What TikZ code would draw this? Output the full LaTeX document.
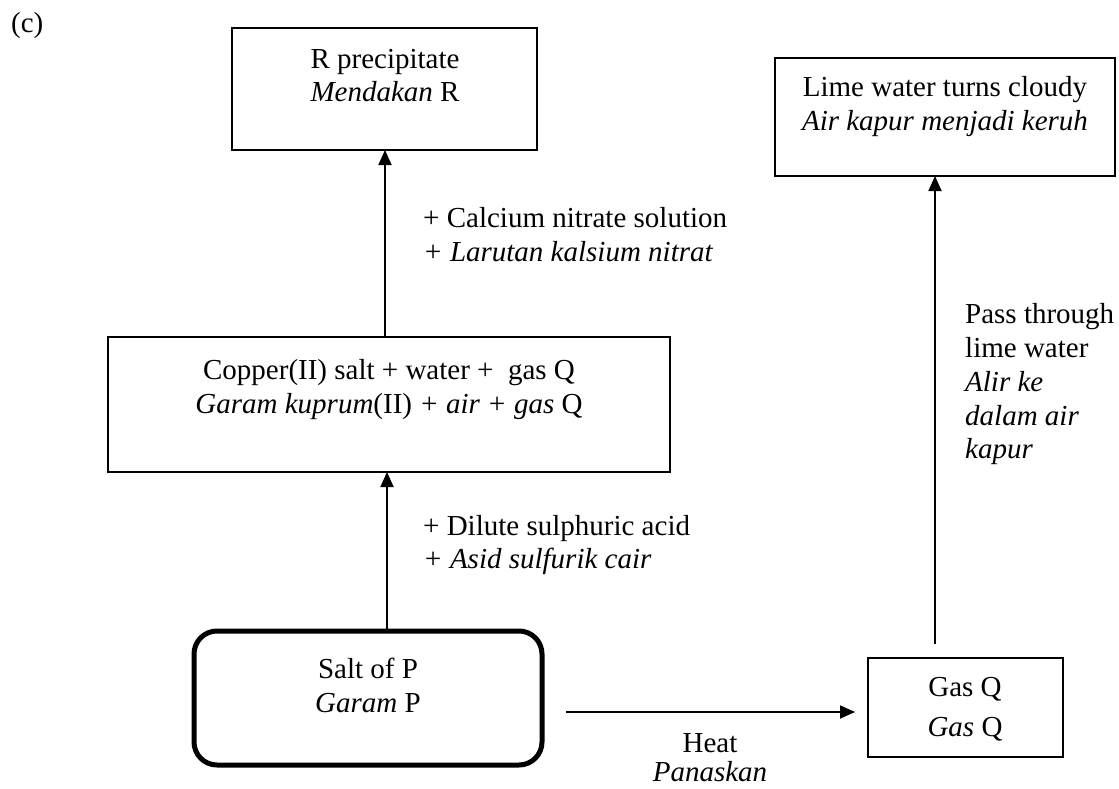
\documentclass[tikz,border=0pt]{standalone}
\usepackage{fontspec}
\setmainfont{Liberation Serif}
\usetikzlibrary{arrows.meta}
\begin{document}
\begin{tikzpicture}[x=1pt,y=-1pt,
  txt/.style={inner sep=0pt,anchor=base,font=\fontsize{29}{34}\selectfont},
  ltxt/.style={txt,anchor=base west},
  boxline/.style={draw=black,line width=1.8pt},
  arr/.style={line width=1.8pt,-{Triangle[length=15pt,width=13pt]}}]
\useasboundingbox (0,0) rectangle (1119,789);
% label (c)
\node[ltxt] (c) at (11,33) {(c)};
% boxes
\draw[boxline] (232,28) rectangle (537,150);
\coordinate (Rb) at (385,150);
\draw[boxline] (775,58) rectangle (1115,176);
\coordinate (Lb) at (935,176);
\draw[boxline] (108,337) rectangle (670,472);
\coordinate (Ct) at (385,337);
\coordinate (Cb) at (387,472);
\draw[line width=5pt,rounded corners=23pt] (194,631) rectangle (542,765);
\coordinate (St) at (387,629);
\draw[boxline] (868,658) rectangle (1063,757);
% box texts
\node[txt] (r1) at (385,69) {R precipitate};
\node[txt] (r2) at (385,102) {\textit{Mendakan} R};
\node[txt] (l1) at (945,97) {Lime water turns cloudy};
\node[txt] (l2) at (945,131) {\textit{Air kapur menjadi keruh}};
\node[txt] (c1) at (389,379) {Copper(II) salt + water +\ \ gas Q};
\node[txt] (c2) at (389,413) {\textit{Garam kuprum}(II) \textit{+ air + gas} Q};
\node[txt] (s1) at (368,678) {Salt of P};
\node[txt] (s2) at (368,712) {\textit{Garam} P};
\node[txt] (g1) at (965,696) {Gas Q};
\node[txt] (g2) at (965,736) {\textit{Gas} Q};
% arrow labels
\node[ltxt] (a1) at (423,227) {+ Calcium nitrate solution};
\node[ltxt] (a2) at (423,261) {\textit{+ Larutan kalsium nitrat}};
\node[ltxt] (d1) at (423,535) {+ Dilute sulphuric acid};
\node[ltxt] (d2) at (423,568) {\textit{+ Asid sulfurik cair}};
\node[ltxt] (p1) at (965,323) {Pass through};
\node[ltxt] (p2) at (965,357) {lime water};
\node[ltxt] (p3) at (965,391) {\textit{Alir ke}};
\node[ltxt] (p4) at (965,425) {\textit{dalam air}};
\node[ltxt] (p5) at (965,458) {\textit{kapur}};
\node[txt] (h1) at (710,752) {Heat};
\node[txt] (h2) at (710,781) {\textit{Panaskan}};
% arrows
\coordinate (Hs) at (566,712);
\coordinate (He) at (855,712);
\coordinate (Gt) at (935,644);
\draw[arr] (Ct) -- (Rb);
\draw[arr] (St) -- (Cb);
\draw[arr] (Hs) -- (He);
\draw[arr] (Gt) -- (Lb);
\end{tikzpicture}
\end{document}
